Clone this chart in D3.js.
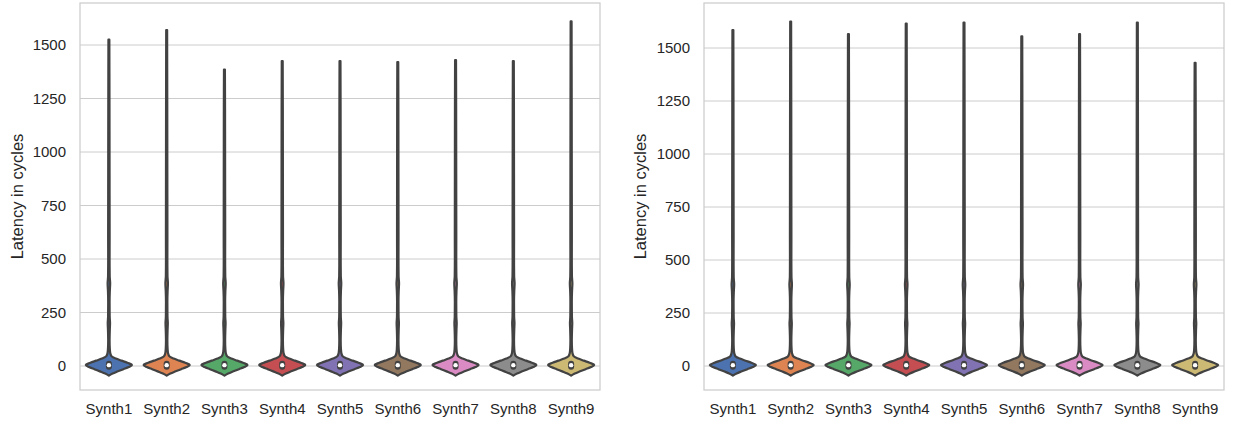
<!DOCTYPE html>
<html><head><meta charset="utf-8">
<script src="https://cdn.jsdelivr.net/npm/d3@7"></script>
<style>
body{margin:0;background:#fff;}
text{font-family:"Liberation Sans",Arial,sans-serif;fill:#262626;}
</style></head>
<body><svg id="chart" width="1233" height="424"></svg>
<script>
const categories = ["Synth1","Synth2","Synth3","Synth4","Synth5","Synth6","Synth7","Synth8","Synth9"];
const yTicks = [0,250,500,750,1000,1250,1500];
const colors = ["#4C72B0","#DD8452","#55A868","#C44E52","#8172B3","#937860","#DA8BC3","#8C8C8C","#CCB974"];
// per-series maxima (cycles), left and right panel
const maxLeft  = [1525,1570,1385,1425,1425,1420,1430,1425,1610];
const maxRight = [1585,1625,1565,1615,1620,1555,1565,1620,1430];
const minLeft  = [-45,-45,-45,-45,-45,-45,-45,-45,-45];
const minRight = [-45,-45,-45,-45,-45,-45,-45,-45,-45];
const medianLeft  = [4,4,4,4,4,4,4,4,4];
const medianRight = [4,4,4,4,4,4,4,4,4];
// shared density profile: value (cycles) -> relative violin half-width
const densityValues = [-45,-35,-25,-15,-5,5,15,25,35,45,60,80,120,170,200,230,300,350,385,420,500,600,800,1000,1200];
const densityWidths = [0,0.16,0.39,0.63,0.86,1.0,0.8,0.55,0.3,0.12,0.06,0.04,0.03,0.04,0.05,0.035,0.03,0.04,0.055,0.035,0.03,0.032,0.03,0.028,0.026];

const svg = d3.select("#chart");

function panel(x0, x1, yTop1500, maxes, mins, medians, labelX) {
  const top = 3, bottom = 390, zeroY = 366;
  const k = (zeroY - yTop1500) / 1500;
  const y = d3.scaleLinear().domain([-(bottom - zeroY)/k, (zeroY - top)/k]).range([bottom, top]);
  const x = d3.scaleBand().domain(categories).range([x0, x1]).paddingInner(0).paddingOuter(0);
  const g = svg.append("g");
  g.selectAll(".grid").data(yTicks).enter().append("line")
    .attr("x1", x0).attr("x2", x1).attr("y1", d => y(d)).attr("y2", d => y(d))
    .attr("stroke", "#cccccc").attr("stroke-width", 1);
  g.append("rect").attr("x", x0).attr("y", top).attr("width", x1 - x0).attr("height", bottom - top)
    .attr("fill", "none").attr("stroke", "#cccccc").attr("stroke-width", 1.25);
  const ya = d3.axisLeft(y).tickValues(yTicks).tickSize(0).tickPadding(14).tickFormat(d3.format("d"));
  const yg = g.append("g").attr("transform", `translate(${x0},0)`).call(ya);
  yg.select(".domain").remove();
  yg.selectAll("text").attr("font-size", 15).style("font-family", "Liberation Sans, Arial, sans-serif").attr("fill", "#262626");
  const xa = d3.axisBottom(x).tickSize(0).tickPadding(13);
  const xg = g.append("g").attr("transform", `translate(0,${bottom})`).call(xa);
  xg.select(".domain").remove();
  xg.selectAll("text").attr("font-size", 15).style("font-family", "Liberation Sans, Arial, sans-serif").attr("fill", "#262626");
  g.append("text").attr("transform", `translate(${labelX},${(top + bottom) / 2}) rotate(-90)`)
    .attr("text-anchor", "middle").attr("dy", "0.35em").attr("font-size", 16.5).text("Latency in cycles");
  const halfMax = x.bandwidth() * 0.8 / 2;
  const area = d3.area().curve(d3.curveMonotoneY)
    .y(d => y(d[0]))
    .x0(d => d[2] - d[1] * halfMax)
    .x1(d => d[2] + d[1] * halfMax);
  categories.forEach((c, i) => {
    const cx = x(c) + x.bandwidth() / 2;
    const pts = [];
    densityValues.forEach((v, j) => {
      if (v >= mins[i] && v < maxes[i] - 20) pts.push([v, densityWidths[j], cx]);
    });
    pts.push([maxes[i], 0.02, cx]);
    g.append("path").datum(pts).attr("d", area)
      .attr("fill", colors[i]).attr("stroke", "#424242").attr("stroke-width", 2.2).attr("stroke-linejoin", "round");
    g.append("line").attr("x1", cx).attr("x2", cx).attr("y1", y(medians[i] - 7)).attr("y2", y(medians[i] + 7))
      .attr("stroke", "#424242").attr("stroke-width", 6).attr("stroke-linecap", "round");
    g.append("circle").attr("cx", cx).attr("cy", y(medians[i])).attr("r", 2.2).attr("fill", "#ffffff");
  });
}

panel(80, 600, 45, maxLeft, minLeft, medianLeft, 17);
panel(704, 1224, 48, maxRight, minRight, medianRight, 640);
</script></body></html>
